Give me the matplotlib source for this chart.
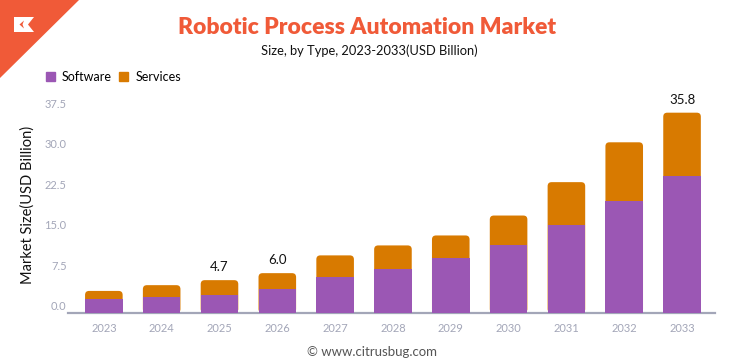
import numpy as np
import matplotlib
matplotlib.use("Agg")
import matplotlib.pyplot as plt
from matplotlib.patches import FancyBboxPatch, Polygon, Patch

# data
years = ['2023', '2024', '2025', '2026', '2027', '2028', '2029', '2030', '2031', '2032', '2033']
software = [1.25, 1.57, 2.0, 3.0, 5.25, 6.7, 8.9, 11.2, 14.9, 19.4, 24.1]
services = [1.45, 2.2, 2.7, 3.0, 4.05, 4.45, 4.1, 5.5, 8.0, 10.9, 11.7]
labelled_years = ['2025', '2026', '2033']
y_ticks = [0.0, 7.5, 15.0, 22.5, 30.0, 37.5]

purple = '#9b57b4'
orange = '#d87a00'
brand = '#f05a38'
grey = '#a3a6b8'

W, H = 736, 364
fig = plt.figure(figsize=(W / 100, H / 100), dpi=100)

# axes placed in pixel terms
left, right, bottom, top = 68, 715, 313, 97.6
ax = fig.add_axes([left / W, 1 - bottom / H, (right - left) / W, (bottom - top) / H])
ymin, ymax = -1.4, 38.6
ax.set_ylim(ymin, ymax)
ax.set_xlim(-0.62, 10.57)

x = np.arange(len(years))
totals = np.array(software) + np.array(services)
bw = 0.65

# rounded corner aspect correction (data-y per data-x in screen space)
px_x = (right - left) / (10.57 + 0.62)
px_y = (bottom - top) / (ymax - ymin)
aspect = px_x / px_y
r = 4 / px_x

for xi, tot in zip(x, totals):
    p = FancyBboxPatch((xi - bw / 2, ymin), bw, tot - ymin,
                       boxstyle=f"round,pad=0,rounding_size={r}",
                       mutation_aspect=aspect, fc=orange, ec='none', zorder=2)
    ax.add_patch(p)

ax.bar(x, np.array(software) - ymin, bottom=ymin, width=bw, color=purple,
       edgecolor='none', zorder=3)

for xi, yr, tot in zip(x, years, totals):
    if yr in labelled_years:
        ax.annotate(f"{tot:.1f}", (xi, tot), xytext=(0, 5), textcoords='offset points',
                    ha='center', va='bottom', fontsize=9.5, color='#111111',
                    family='Lato')

for s in ['top', 'right', 'left']:
    ax.spines[s].set_visible(False)
ax.spines['bottom'].set_color(grey)
ax.spines['bottom'].set_linewidth(1.6)

ax.set_xticks(x)
ax.set_xticklabels(years)
ax.set_yticks(y_ticks)
ax.set_yticklabels([f"{v:.1f}" for v in y_ticks])
ax.tick_params(axis='both', length=0, labelsize=8, labelcolor=grey)
ax.tick_params(axis='x', pad=7)
ax.tick_params(axis='y', pad=1)
for t in ax.get_xticklabels() + ax.get_yticklabels():
    t.set_family('Lato')

fig.text(28 / W, 1 - 205 / H, 'Market Size(USD Billion)', rotation=90,
         ha='center', va='center', fontsize=10.5, color='#111111', family='Lato')

# titles
fig.text(367 / W, 1 - 27 / H, 'Robotic Process Automation Market', ha='center', va='center',
         fontsize=16.5, fontweight='heavy', color=brand, family='Lato')
fig.text(369 / W, 1 - 51 / H, 'Size, by Type, 2023-2033(USD Billion)', ha='center', va='center',
         fontsize=9.3, color='#111111', family='Lato')

# legend
handles = [Patch(color=purple, label='Software'), Patch(color=orange, label='Services')]
fig.legend(handles=handles, loc='center left', bbox_to_anchor=(46 / W, 1 - 77 / H), ncol=2,
           frameon=False, borderaxespad=0, borderpad=0,
           handlelength=0.72, handleheight=0.72, handletextpad=0.55,
           columnspacing=0.6, prop={'family': 'Lato', 'size': 9})

# logo corner
fig.patches.append(Polygon([(0, 1), (79 / W, 1), (0, 1 - 78 / H)], closed=True,
                           transform=fig.transFigure, fc=brand, ec='none'))
fig.patches.append(Polygon([(14 / W, 1 - 17 / H), (34 / W, 1 - 17 / H), (28 / W, 1 - 24.5 / H),
                            (34 / W, 1 - 32 / H), (14 / W, 1 - 32 / H)], closed=True,
                           transform=fig.transFigure, fc='white', ec='none'))
fig.patches.append(Polygon([(24 / W, 1 - 20.5 / H), (19.5 / W, 1 - 24.5 / H), (24 / W, 1 - 28.5 / H),
                            (22.5 / W, 1 - 24.5 / H)], closed=True,
                           transform=fig.transFigure, fc=brand, ec='none'))

fig.text(372 / W, 1 - 352 / H, '\u00a9 www.citrusbug.com', ha='center', va='center',
         fontsize=9.5, color='#555555', family='Lato')

fig.savefig('out.png', dpi=100)
